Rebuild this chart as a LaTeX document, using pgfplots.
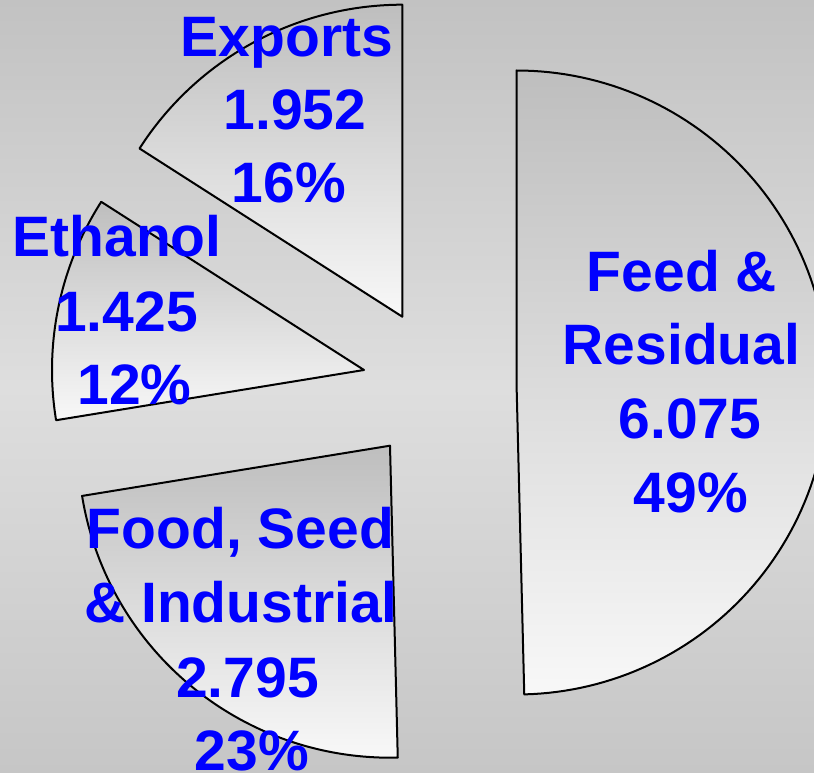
\documentclass[border=0pt]{standalone}
\usepackage{pgfplots}
\pgfplotsset{compat=1.18}
\usepackage{fontspec}
\setmainfont{Liberation Sans}
\definecolor{lblblue}{HTML}{0000FF}
\definecolor{wtop}{HTML}{BEBEBE}
\definecolor{wbot}{HTML}{F8F8F8}
\definecolor{bgtop}{HTML}{C2C2C2}
\definecolor{bgmid}{HTML}{DEDEDE}
\definecolor{bgbot}{HTML}{C6C6C6}
\tikzset{
  wedge/.style={draw=black, top color=wtop, bottom color=wbot, line join=round},
  lbl/.style={font=\fontsize{57}{68}\selectfont\bfseries, text=lblblue, anchor=base, inner sep=0pt},
}
\begin{document}
\begin{tikzpicture}
\shade[top color=bgtop, bottom color=bgbot, middle color=bgmid] (0,0) rectangle (814pt,773pt);
% data values
\pgfmathsetmacro{\vExp}{1.952}
\pgfmathsetmacro{\vEth}{1.425}
\pgfmathsetmacro{\vFsi}{2.795}
\pgfmathsetmacro{\vFeed}{6.075}
\pgfmathsetmacro{\tot}{\vExp+\vEth+\vFsi+\vFeed}
\pgfmathsetmacro{\aA}{90}
\pgfmathsetmacro{\aB}{\aA+360*\vExp/\tot}
\pgfmathsetmacro{\aC}{\aB+360*\vEth/\tot}
\pgfmathsetmacro{\aD}{\aC+360*\vFsi/\tot}
\pgfmathsetmacro{\aE}{\aA+360}
\begin{axis}[
  at={(0,0)}, anchor=south west,
  width=814pt, height=773pt, scale only axis,
  xmin=0, xmax=814, ymin=0, ymax=773,
  hide axis, clip=true,
  every axis plot/.append style={line width=2pt},
]
% Exports
\addplot[wedge, line width=2pt, samples=120, mark=none, domain=\aA:\aB] ({402.3+312*cos(x)},{456.3+312*sin(x)}) -- (402.3,456.3) -- cycle;
% Ethanol
\addplot[wedge, line width=2pt, samples=120, mark=none, domain=\aB:\aC] ({364+312*cos(x)},{403+312*sin(x)}) -- (364,403) -- cycle;
% Food, Seed & Industrial
\addplot[wedge, line width=2pt, samples=120, mark=none, domain=\aC:\aD] ({390+312*cos(x)},{327.3+312*sin(x)}) -- (390,327.3) -- cycle;
% Feed & Residual
\addplot[wedge, line width=2pt, samples=120, mark=none, domain=\aD:\aE] ({516.5+312*cos(x)},{390.5+312*sin(x)}) -- (516.5,390.5) -- cycle;

\node[lbl] at (287,716) {Exports};
\node[lbl] at (295,643) {1.952};
\node[lbl] at (289,570) {16\%};
\node[lbl] at (117,516) {Ethanol};
\node[lbl] at (126.5,441.3) {1.425};
\node[lbl] at (134.5,368) {12\%};
\node[lbl] at (240.5,224) {Food, Seed};
\node[lbl] at (241,150) {\& Industrial};
\node[lbl] at (247.5,75) {2.795};
\node[lbl] at (252,2) {23\%};
\node[lbl] at (682,481) {Feed \&};
\node[lbl] at (681.5,408) {Residual};
\node[lbl] at (690,334) {6.075};
\node[lbl] at (691,260) {49\%};
\end{axis}
\pgfresetboundingbox
\path (0,0) rectangle (814pt,773pt);
\end{tikzpicture}
\end{document}
